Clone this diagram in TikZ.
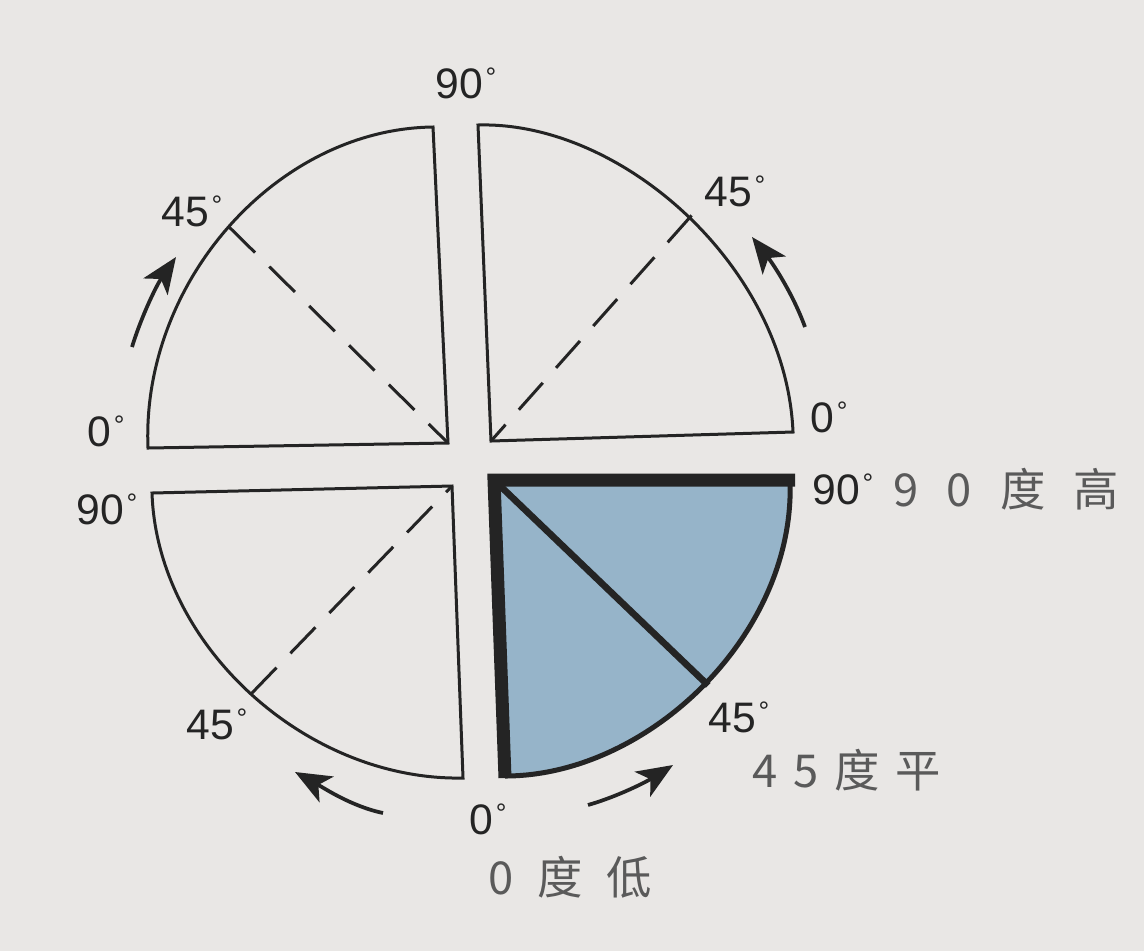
\documentclass[tikz,border=0pt]{standalone}
\usepackage{fontspec}
\setmainfont{Liberation Sans}
\newfontfamily\cjk{Noto Sans CJK SC}
\usetikzlibrary{arrows.meta}

\definecolor{paper}{RGB}{233,231,229}
\definecolor{ink}{RGB}{36,36,36}
\definecolor{greyink}{RGB}{90,90,90}
\definecolor{steel}{RGB}{150,180,201}

\newcommand{\degmark}{\kern2pt\raisebox{9pt}{\fontsize{20}{20}\selectfont °}}

\tikzset{every picture/.style={line width=0.75pt},
  deglabel/.style={inner sep=0pt, text=ink, font=\fontsize{32}{36}\selectfont},
  cjklabel/.style={inner sep=0pt, anchor=west, text=greyink, font=\cjk\fontsize{34}{38}\selectfont},
  turnarrow/.style={line width=2.8, color=ink, -{Stealth[length=27pt,width=22pt,inset=7pt]}}}

\begin{document}
\begin{tikzpicture}[x=0.75pt,y=0.75pt,yscale=-1,xscale=1]
	%Background
	\fill [paper] (0,0) rectangle (1144,951);
	\useasboundingbox (0,0) rectangle (1144,951);

	%Shape: Quarter top left
	\draw [color=ink, line width=2.25] (148,448) .. controls (141,283) and (276,129) .. (433,127) -- (448,443) -- cycle ;
	\draw [color=ink, line width=2.25, dash pattern={on 27pt off 15pt}] (229.4,227.3) -- (448,443) ;
	%Shape: Quarter top right
	\draw [color=ink, line width=2.25] (793,432) .. controls (786,267) and (622,121) .. (478,125) -- (491,441) -- cycle ;
	\draw [color=ink, line width=2.25, dash pattern={on 27pt off 15pt}] (691.6,215.4) -- (491,441) ;
	%Shape: Quarter bottom left
	\draw [color=ink, line width=2.25] (152,493) .. controls (157,645) and (306,781) .. (463,778) -- (452,486) -- cycle ;
	\draw [color=ink, line width=2.25, dash pattern={on 27pt off 15pt}] (251.5,693.5) -- (452,486) ;
	%Shape: Quarter bottom right (shaded)
	\fill [steel] (790,480) .. controls (796,634) and (648,776) .. (505,776) -- (494,480) -- cycle ;
	\draw [color=ink, line width=5] (494,480) -- (708.2,685.4) ;
	\draw [color=ink, line width=3.75] (790,480) .. controls (796,634) and (648,776) .. (505,776) ;
	\draw [color=ink, line width=9.75, miter limit=4] (505,778) -- (494,480) -- (795,480) ;

	%Curve Lines: turning arrows
	\draw [turnarrow] (132,347) .. controls (141.9,314.9) and (156.9,284.7) .. (176,257) ;
	\draw [turnarrow] (805,327) .. controls (793.1,294.2) and (773.5,264.5) .. (752,237) ;
	\draw [turnarrow] (383,813) .. controls (351.2,806.3) and (323.5,787.7) .. (295,772) ;
	\draw [turnarrow] (588,805) .. controls (618.2,796.3) and (646.4,781.7) .. (673,765) ;

	% Text Node
	\node [deglabel] (top90) at (466,83) {90\degmark};
	% Text Node
	\node [deglabel] (tl45) at (192,211) {45\degmark};
	% Text Node
	\node [deglabel] (tr45) at (735,191) {45\degmark};
	% Text Node
	\node [deglabel] (left0) at (106,431) {0\degmark};
	% Text Node
	\node [deglabel] (left90) at (107,509) {90\degmark};
	% Text Node
	\node [deglabel] (right0) at (829,417) {0\degmark};
	% Text Node
	\node [deglabel] (right90) at (843,489) {90\degmark};
	% Text Node
	\node [deglabel] (br45) at (739,717) {45\degmark};
	% Text Node
	\node [deglabel] (bottom0) at (488,819) {0\degmark};
	% Text Node
	\node [deglabel] (bl45) at (217,724) {45\degmark};

	% Text Node
	\node [cjklabel] (high) at (893,489) {\spaceskip=.62em 9 0 度 高};
	% Text Node
	\node [cjklabel] (flat) at (752,770) {\spaceskip=.35em 4 5 度 平};
	% Text Node
	\node [cjklabel] (low) at (488,877) {\spaceskip=.52em 0 度 低};

\end{tikzpicture}
\end{document}
